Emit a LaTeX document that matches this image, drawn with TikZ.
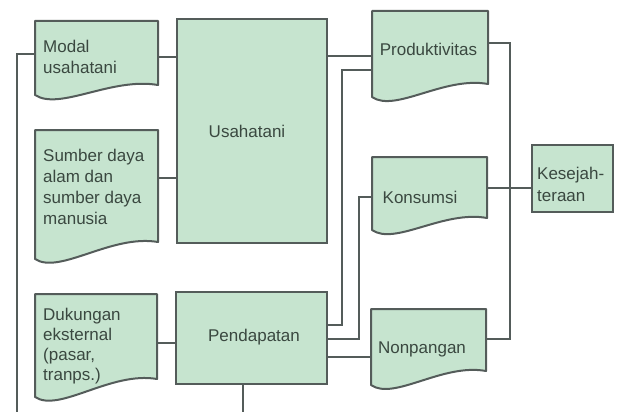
\documentclass[tikz,border=0pt]{standalone}
\usepackage{fontspec}
\setmainfont{Liberation Sans}
\usetikzlibrary{fit}
\definecolor{boxfill}{RGB}{198,228,207}
\definecolor{edge}{RGB}{84,92,90}
\definecolor{ink}{RGB}{58,72,64}
\newcommand\docpath[5]{%
  \pgfmathsetmacro\dpxa{#1+0.2*(#3-#1)}%
  \pgfmathsetmacro\dpxb{#1+0.62*(#3-#1)}%
  \pgfmathsetmacro\dpya{#4+16}%
  \pgfmathsetmacro\dpyb{#5-8}%
  \draw[boxline] (#1,#2) -- (#3,#2) -- (#3,#5) .. controls (\dpxb,\dpyb) and (\dpxa,\dpya) .. (#1,#4) -- cycle;}
\begin{document}
\begin{tikzpicture}[x=1pt,y=-1pt,
  boxline/.style={draw=edge,fill=boxfill,line width=2pt,line join=round},
  area/.style={inner sep=0pt,outer sep=0pt},
  rectbox/.style={area,draw=edge,fill=boxfill,line width=2pt},
  conn/.style={draw=edge,line width=1.8pt},
  lbl/.style={inner sep=0pt,text=ink,font=\fontsize{17}{21}\selectfont},
  mlbl/.style={lbl,align=left,anchor=north west}]
\useasboundingbox (0,0) rectangle (619,412);

% document-shaped boxes
\docpath{35}{21}{158}{95}{85}
\node[area,fit={(35,21) (158,95)}] (modal) {};
\docpath{35}{130}{158}{259}{242}
\node[area,fit={(35,130) (158,259)}] (sumber) {};
\docpath{35}{294}{157}{397}{379}
\node[area,fit={(35,294) (157,397)}] (dukungan) {};
\docpath{372}{11}{488}{97}{84}
\node[area,fit={(372,11) (488,97)}] (prod) {};
\docpath{372}{157}{487}{230}{218}
\node[area,fit={(372,157) (487,230)}] (kons) {};
\docpath{371}{309}{486}{385}{371}
\node[area,fit={(371,309) (486,385)}] (nonp) {};

% plain boxes
\node[rectbox,fit={(177,19) (327,243)}] (usaha) {};
\node[rectbox,fit={(176,292) (327,384)}] (pend) {};
\node[rectbox,fit={(532,145) (613,212)}] (kesej) {};

% labels
\node[mlbl] (tmodal) at (43,39.5) {Modal\\usahatani};
\node[mlbl] (tsumber) at (43,148.5) {Sumber daya\\alam dan\\sumber daya\\manusia};
\node[mlbl,font=\fontsize{17}{20}\selectfont] (tduk) at (43,307.5) {Dukungan\\eksternal\\(pasar,\\tranps.)};
\node[mlbl,font=\fontsize{17}{22}\selectfont] (tkes) at (537,166.5) {Kesejah-\\teraan};
\node[lbl,anchor=base] (tusa) at (247,137) {Usahatani};
\node[lbl,anchor=base] (tprod) at (428.5,56) {Produktivitas};
\node[lbl,anchor=base] (tkons) at (420,203) {Konsumsi};
\node[lbl,anchor=base] (tpend) at (254,341) {Pendapatan};
\node[lbl,anchor=base] (tnonp) at (422,353) {Nonpangan};

% free ends
\coordinate (leftend) at (17,413);
\coordinate (bottomend) at (243,413);

% connectors
\draw[conn] (leftend) -- (leftend |- 0,54) -- (modal.west |- 0,54);
\draw[conn] (modal.east |- 0,57) -- (usaha.west |- 0,57);
\draw[conn] (sumber.east |- 0,178) -- (usaha.west |- 0,178);
\draw[conn] (dukungan.east |- 0,343) -- (pend.west |- 0,343);
\draw[conn] (usaha.east |- 0,56) -- (prod.west |- 0,56);
\draw[conn] (pend.east |- 0,325) -- (342,325) -- (342,70) -- (prod.west |- 0,70);
\draw[conn] (pend.east |- 0,339) -- (359,339) -- (359,197) -- (kons.west |- 0,197);
\draw[conn] (pend.east |- 0,357) -- (nonp.west |- 0,357);
\draw[conn] (prod.east |- 0,43) -- (510,43) -- (510,339) -- (nonp.east |- 0,339);
\draw[conn] (kons.east |- 0,188) -- (kesej.west |- 0,188);
\draw[conn] (pend.south -| bottomend) -- (bottomend);
\end{tikzpicture}
\end{document}
